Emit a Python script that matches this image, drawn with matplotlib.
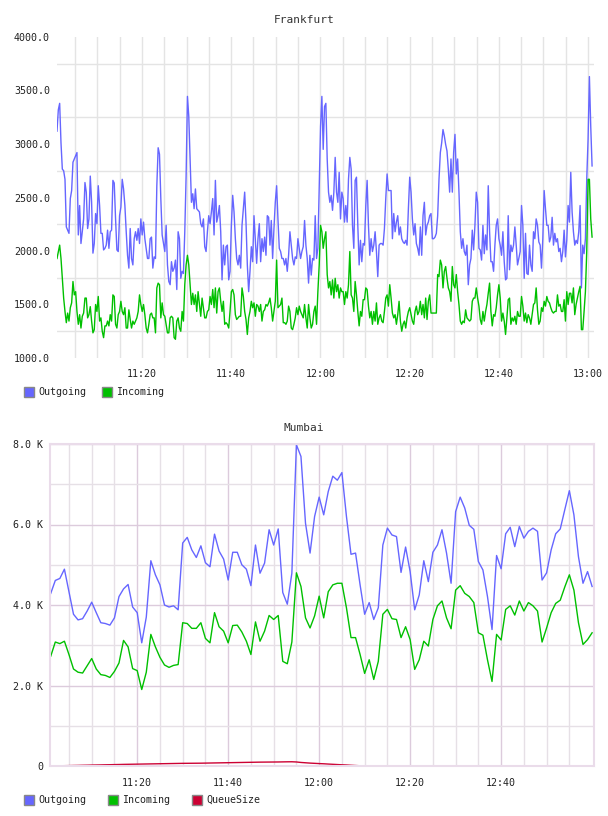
import matplotlib
matplotlib.use("Agg")
import matplotlib.pyplot as plt
from matplotlib.patches import Rectangle
import pandas as pd

plt.rcParams['font.family'] = ['DejaVu Sans Mono']

# Frankfurt: about one sample every 18 s, 11:01 - 13:01
out_fra = [
    3120, 3320, 3380, 3010, 2765, 2750, 2670, 2225, 2195, 2165,
    2490, 2565, 2830, 2860, 2890, 2920, 2150, 2425, 2070, 2180,
    2300, 2640, 2550, 2210, 2300, 2700, 2455, 1980, 2070, 2350,
    2255, 2610, 2425, 2165, 2165, 2010, 2025, 2055, 2195, 2025,
    2180, 2195, 2660, 2635, 2300, 2010, 1995, 2330, 2410, 2670,
    2580, 2425, 2180, 1960, 1840, 2210, 1930, 1870, 2115, 2180,
    2100, 2210, 2070, 2300, 2150, 2270, 2115, 2025, 1930, 1930,
    2115, 2130, 1840, 1945, 1930, 2610, 2965, 2905, 2490, 2150,
    2070, 1995, 2240, 1870, 1715, 1685, 1900, 1810, 1840, 1915,
    1640, 2180, 2115, 1745, 1810, 1790, 2180, 2700, 3445, 3260,
    2860, 2455,
    2535, 2395, 2580, 2395, 2380, 2365, 2255, 2225, 2300, 2040,
    1995, 2180, 2330, 2255, 2365, 2490, 2150, 2660, 2270, 2330,
    2425, 2180, 1730, 2055, 1870, 2040, 2055, 1730, 1810, 2240,
    2520, 2365, 2115, 1930, 1870, 1960, 1840, 2240, 2395, 2550,
    2270, 1870, 1620, 1810, 2040, 1900, 2330, 2115, 1885, 2115,
    2255, 1900, 2115, 1995, 2130, 1960, 2330, 2315, 2055, 2285,
    1930, 2210, 2455, 2610, 2300, 2025, 1995, 1930, 1930, 1870,
    1930, 1810, 1960, 2180, 2055, 1930, 1870, 1945, 1930, 2115,
    2025, 1930, 1995, 2040, 2285, 2055, 1930, 1700, 1960, 1775,
    1930, 1915, 2330, 1930, 2025, 2610, 3165, 3445, 2950, 3350,
    3380,
    2860, 2550, 2455, 2520, 2380, 2550, 2875, 2550, 2455, 2735,
    2300, 2550, 2490, 2270, 2425, 2270, 2670, 2875, 2765, 2240,
    2025, 2660, 2690, 2240, 1870, 2100, 1900, 2070, 2055, 2425,
    2660, 2240, 1960, 2115, 1995, 2055, 2180, 1995, 1760, 2055,
    2070, 2070, 2055, 2210, 2490, 2720, 2565, 2565, 2565, 2115,
    2350, 2180, 2270, 2330, 2150, 2225, 2115, 2085, 2070, 2100,
    2055, 2395, 2690, 2550, 2300, 2150, 2255, 2070, 2025, 1960,
    2225, 1960, 2330, 2455, 2150, 2240, 2270, 2330, 2350, 2115,
    2115, 2130, 2165, 2330, 2670, 2920, 3010, 3135, 3075, 2995,
    2935, 2765, 2550, 2860, 2550, 2920, 3090, 2720, 2860, 2550,
    2180, 2025, 2115, 1995, 1960, 2055, 1685, 1870, 1930, 2195,
    2010, 2240, 2550, 2455, 2025, 2010, 1915, 2240, 1975, 2150,
    2010, 2610, 2180, 1900, 1900, 1810, 2055, 2240, 2300, 2115,
    2055, 1960, 2180, 1900, 1730, 1745, 2330, 1825, 2055, 1995,
    2055, 2225, 2055, 1870, 1930, 1995, 2425, 2240, 1745, 2165,
    1790, 1780, 2055, 1870, 1810, 2180, 2115, 2300, 2240, 2085,
    2055, 1840, 2115, 2565, 2395, 2240, 2240, 2085, 2130, 2315,
    2055, 2165, 2085, 2115, 1995, 2025, 1900, 1995, 2195, 1945,
    2100, 2425, 2270, 2735, 2365, 2180, 2055, 2100, 2070, 2180,
    2425, 1655, 2055, 1975, 2115, 2670, 3045, 3630, 3165, 2795,
]
in_fra = [
    1930, 1995, 2055, 1930, 1745, 1560, 1435, 1330, 1420, 1345,
    1470, 1515, 1715, 1590, 1620, 1435, 1315, 1405, 1280, 1390,
    1420, 1560, 1560, 1375, 1405, 1480, 1345, 1235, 1265, 1500,
    1435, 1575, 1345, 1375, 1250, 1190, 1300, 1300, 1345, 1300,
    1405, 1345, 1590, 1575, 1315, 1280, 1405, 1435, 1530, 1435,
    1405, 1470, 1280, 1280, 1450, 1360, 1280, 1345, 1315, 1345,
    1375, 1435, 1590, 1500, 1435, 1500, 1405, 1280, 1235, 1315,
    1405, 1420, 1375, 1375, 1235, 1655, 1700, 1685, 1375, 1515,
    1405, 1390, 1315, 1235, 1235, 1375, 1390, 1375, 1190, 1175,
    1345, 1375, 1280, 1250, 1435, 1345, 1685, 1870, 1960, 1870,
    1685, 1500,
    1605, 1500, 1590, 1435, 1620, 1500, 1390, 1560, 1470, 1375,
    1375, 1435, 1450, 1575, 1500, 1640, 1470, 1655, 1420, 1620,
    1655, 1530, 1435, 1530, 1315, 1330, 1315, 1280, 1435, 1620,
    1640, 1590, 1405, 1360, 1375, 1390, 1390, 1655, 1575, 1435,
    1360, 1220, 1375, 1435, 1530, 1470, 1515, 1390, 1500, 1485,
    1435, 1500, 1345, 1435, 1450, 1500, 1485, 1515, 1560, 1470,
    1345, 1435, 1530, 1915, 1470, 1485, 1500, 1560, 1330, 1330,
    1315, 1345, 1485, 1435, 1280, 1265, 1315, 1375, 1470, 1405,
    1485, 1435, 1405, 1375, 1500, 1375, 1280, 1500, 1375, 1280,
    1315, 1435, 1485, 1315, 1620, 1870, 2240, 2180, 2025, 2115,
    2180,
    1780, 1655, 1715, 1590, 1730, 1560, 1745, 1620, 1685, 1560,
    1655, 1620, 1620, 1500, 1620, 1560, 1685, 1995, 1590, 1560,
    1435, 1715, 1590, 1435, 1300, 1435, 1390, 1545, 1545, 1655,
    1640, 1485, 1375, 1435, 1315, 1435, 1345, 1515, 1315, 1375,
    1405, 1345, 1330, 1435, 1560, 1590, 1485, 1685, 1560, 1420,
    1375, 1405, 1315, 1405, 1530, 1345, 1250, 1315, 1345, 1280,
    1375, 1435, 1470, 1405, 1345, 1315, 1435, 1485, 1405, 1435,
    1530, 1405, 1500, 1375, 1560, 1360, 1530, 1590, 1420, 1420,
    1420, 1420, 1420, 1780, 1760, 1915, 1870, 1655, 1810, 1855,
    1745, 1655, 1620, 1530, 1855, 1685, 1655, 1780, 1620, 1500,
    1345, 1315, 1345, 1330, 1450, 1375, 1360, 1345, 1360, 1530,
    1560, 1560, 1655, 1560, 1485, 1360, 1315, 1435, 1345, 1435,
    1500, 1605, 1700, 1435, 1300, 1405, 1390, 1470, 1590, 1685,
    1560, 1345, 1420, 1345, 1220, 1375, 1545, 1560, 1315, 1375,
    1345, 1390, 1315, 1435, 1390, 1390, 1575, 1485, 1345, 1420,
    1330, 1405, 1375, 1315, 1405, 1500, 1515, 1655, 1450, 1315,
    1345, 1470, 1435, 1530, 1485, 1575, 1530, 1515, 1470, 1435,
    1420, 1435, 1435, 1590, 1485, 1500, 1435, 1435, 1545, 1345,
    1620, 1500, 1605, 1605, 1515, 1655, 1405, 1500, 1560, 1620,
    1670, 1265, 1265, 1435, 1620, 1995, 2670, 2670, 2300, 2130,
]

# Mumbai: one sample per minute, 11:01 - 13:00
out_mum = [
    4290, 4610, 4660, 4890, 4330, 3770, 3630, 3660, 3850, 4070,
    3810, 3560, 3540, 3500, 3680, 4210, 4400, 4510, 3950, 3810,
    3060, 3700, 5100, 4750, 4500, 4000, 3950, 3980, 3880, 5540,
    5680, 5370, 5180, 5470, 5050, 4950, 5760, 5340, 5140, 4620,
    5310, 5310, 5000, 4890, 4480, 5490, 4790, 5040, 5870, 5490,
    5890, 4310, 4020, 4790, 7980, 7690, 6030, 5290, 6200, 6680,
    6240, 6820, 7200, 7100, 7290, 6200, 5260, 5290, 4500, 3770,
    4060, 3640, 3930, 5490, 5910, 5740, 5700, 4810, 5440, 4830,
    3880, 4250, 5100, 4580, 5310, 5490, 5870, 5290, 4540, 6320,
    6680, 6410, 5980, 5880, 5080, 4870, 4210, 3390, 5230, 4900,
    5770, 5930, 5450, 5950, 5660, 5830, 5910, 5830, 4620, 4800,
    5370, 5770, 5890, 6370, 6840, 6240, 5200, 4540, 4830, 4460,
]
in_mum = [
    2730, 3080, 3040, 3100, 2770, 2410, 2330, 2310, 2490, 2670,
    2410, 2270, 2250, 2200, 2350, 2560, 3120, 2960, 2420, 2370,
    1900, 2330, 3270, 2960, 2700, 2510, 2450, 2500, 2520, 3560,
    3540, 3420, 3420, 3560, 3170, 3060, 3810, 3460, 3350, 3060,
    3490, 3500, 3330, 3100, 2770, 3580, 3100, 3350, 3740, 3640,
    3740, 2600, 2540, 3080, 4800, 4460, 3680, 3430, 3730, 4220,
    3680, 4330, 4500, 4540, 4540, 3930, 3190, 3190, 2770, 2300,
    2640, 2150, 2600, 3770, 3890, 3660, 3640, 3190, 3460, 3140,
    2400, 2640, 3100, 2980, 3640, 3980, 4100, 3680, 3410, 4370,
    4480, 4290, 4210, 4060, 3310, 3250, 2640, 2100, 3270, 3130,
    3890, 3980, 3750, 4100, 3850, 4060, 3980, 3850, 3080, 3430,
    3810, 4040, 4120, 4450, 4750, 4370, 3560, 3020, 3140, 3310,
]
queue_mum = [
    0, 3, 5, 8, 10, 13, 15, 18, 20, 23,
    25, 27, 30, 32, 35, 37, 40, 42, 44, 46,
    48, 50, 52, 54, 56, 58, 60, 62, 64, 66,
    67, 68, 69, 70, 72, 74, 76, 78, 80, 82,
    84, 86, 88, 90, 92, 94, 96, 97, 98, 99,
    100, 102, 104, 105, 100, 88, 80, 72, 66, 60,
    55, 48, 42, 36, 30, 25, 18, 12, 6, 0,
    0, 0, 0, 0, 0, 0, 0, 0, 0, 0,
    0, 0, 0, 0, 0, 0, 0, 0, 0, 0,
    0, 0, 0, 0, 0, 0, 0, 0, 0, 0,
    0, 0, 0, 0, 0, 0, 0, 0, 0, 0,
    0, 0, 0, 0, 0, 0, 0, 0, 0, 0,
]

fra_ticks = [1000, 1500, 2000, 2500, 3000, 3500, 4000]
fra_labels = ['1000.0', '1500.0', '2000.0', '2500.0', '3000.0', '3500.0', '4000.0']
mum_ticks = [0, 2000, 4000, 6000, 8000]
mum_labels = ['0', '2.0 K', '4.0 K', '6.0 K', '8.0 K']
time_labels = ['11:20', '11:40', '12:00', '12:20', '12:40', '13:00']

BLUE = '#6666ff'
GREEN = '#00c000'
RED = '#cc0033'
DAY = '2018-01-01 '

W, H = 608, 816
fig = plt.figure(figsize=(W / 100, H / 100), dpi=100)


def px_axes(x0, y0, x1, y1):
    return fig.add_axes([x0 / W, 1 - y1 / H, (x1 - x0) / W, (y1 - y0) / H])


def legend_item(x, y, color, label):
    fig.add_artist(Rectangle((x / W, 1 - (y + 10) / H), 10 / W, 10 / H,
                             transform=fig.transFigure, facecolor=color,
                             edgecolor='#888888', lw=1))
    fig.text((x + 14) / W, 1 - (y + 5) / H, label, fontsize=7.2,
             va='center', ha='left', color='#222222')


ts = lambda s: pd.Timestamp(DAY + s)

# ---------------- Frankfurt
ax1 = px_axes(57, 37, 594, 358)
t_fra = pd.date_range(ts('11:00:58'), ts('13:00:54'), periods=len(out_fra))
ax1.plot(t_fra, out_fra, color=BLUE, lw=1.0)
ax1.plot(t_fra, in_fra, color=GREEN, lw=1.0)
ax1.set_xlim(ts('11:00:58'), ts('13:01:20'))
ax1.set_ylim(1000, 4000)
ax1.set_yticks(fra_ticks)
ax1.set_yticklabels(fra_labels)
ax1.set_yticks([1250, 1750, 2250, 2750, 3250, 3750], minor=True)
ax1.set_xticks([ts(t) for t in time_labels])
ax1.set_xticklabels(time_labels)
ax1.set_xticks(pd.date_range(ts('11:05'), ts('13:00'), freq='5min'), minor=True)
ax1.grid(which='minor', color='#e4e4e4', lw=1)
ax1.grid(which='major', axis='x', color='#e4e4e4', lw=1)
ax1.set_axisbelow(True)
for s in ax1.spines.values():
    s.set_visible(False)
ax1.tick_params(which='both', length=0)
ax1.tick_params(axis='x', pad=8, labelsize=7.2, colors='#222222')
ax1.tick_params(axis='y', pad=5, labelsize=7.2, colors='#222222')
fig.text(0.5, 1 - 20 / H, 'Frankfurt', ha='center', va='center',
         fontsize=8, color='#333333')
legend_item(24, 387, BLUE, 'Outgoing')
legend_item(102, 387, GREEN, 'Incoming')

# ---------------- Mumbai
ax2 = px_axes(50, 444, 594, 766)
t_mum = pd.date_range(ts('11:01'), ts('13:00'), periods=len(out_mum))
ax2.plot(t_mum, out_mum, color=BLUE, lw=1.0)
ax2.plot(t_mum, in_mum, color=GREEN, lw=1.0)
ax2.plot(t_mum, queue_mum, color=RED, lw=1.0)
ax2.set_xlim(ts('11:00:50'), ts('13:00:25'))
ax2.set_ylim(0, 8000)
ax2.set_yticks(mum_ticks)
ax2.set_yticklabels(mum_labels)
ax2.set_yticks([1000, 3000, 5000, 7000], minor=True)
ax2.set_xticks([ts(t) for t in time_labels[:-1]])
ax2.set_xticklabels(time_labels[:-1])
ax2.set_xticks([t for t in pd.date_range(ts('11:05'), ts('12:55'), freq='5min')
                if t.minute % 20 != 0], minor=True)
ax2.grid(which='major', color='#dccbdc', lw=1)
ax2.grid(which='minor', color='#e6e0e6', lw=1)
ax2.set_axisbelow(True)
for s in ax2.spines.values():
    s.set_color('#eadcea')
    s.set_linewidth(1.5)
ax2.tick_params(which='both', length=0)
ax2.tick_params(axis='x', pad=9, labelsize=7.2, colors='#222222')
ax2.tick_params(axis='y', pad=5, labelsize=7.2, colors='#222222')
fig.text(0.5, 1 - 428 / H, 'Mumbai', ha='center', va='center',
         fontsize=8, color='#333333')
legend_item(24, 795, BLUE, 'Outgoing')
legend_item(108, 795, GREEN, 'Incoming')
legend_item(192, 795, RED, 'QueueSize')

fig.savefig('out.png', dpi=100)
